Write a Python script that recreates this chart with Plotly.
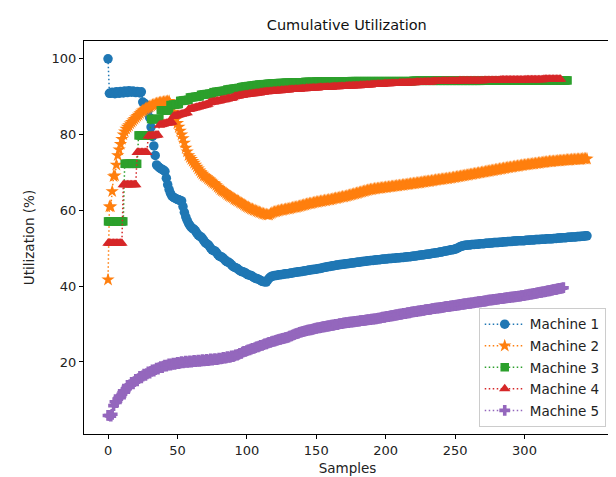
import plotly.graph_objects as go

machine1 = [
    100.0, 90.9, 90.9, 91.2, 91.0, 90.8, 91.3, 91.1, 90.9, 91.4,
    91.2, 91.0, 91.5, 91.3, 91.1, 91.6, 91.4, 91.2, 91.5, 91.3,
    91.1, 91.4, 91.2, 91.0, 91.3, 88.6, 88.3, 88.0, 87.6, 86.5,
    84.5, 82.0, 79.5, 77.0, 74.5, 72.0, 71.6, 71.3, 71.0, 70.8,
    70.6, 70.3, 68.5, 66.8, 65.5, 64.5, 63.8, 63.5, 63.3, 63.1,
    62.9, 62.8, 62.6, 62.5, 61.0, 59.5, 58.3, 57.4, 56.6, 56.0,
    55.5, 55.2, 55.0, 54.6, 54.0, 53.5, 53.2, 53.0, 52.6, 52.0,
    51.5, 51.2, 51.0, 50.6, 50.0, 49.6, 49.4, 49.3, 48.9, 48.4,
    48.0, 47.8, 47.7, 47.4, 47.0, 46.6, 46.4, 46.3, 46.0, 45.6,
    45.2, 45.0, 44.9, 44.7, 44.4, 44.1, 43.9, 43.8, 43.7, 43.5,
    43.2, 43.0, 42.9, 42.8, 42.6, 42.3, 42.1, 42.0, 41.9, 41.7,
    41.5, 41.3, 41.2, 41.2, 41.1, 41.6, 42.1, 42.4, 42.6, 42.7,
    42.8, 42.8, 42.9, 43.0, 43.0, 43.1, 43.1, 43.2, 43.3, 43.3,
    43.3, 43.4, 43.5, 43.5, 43.6, 43.7, 43.7, 43.8, 43.8, 43.9,
    43.9, 44.0, 44.1, 44.1, 44.2, 44.3, 44.3, 44.4, 44.4, 44.5,
    44.5, 44.6, 44.7, 44.7, 44.8, 44.9, 45.0, 45.0, 45.1, 45.2,
    45.2, 45.3, 45.4, 45.4, 45.5, 45.6, 45.6, 45.7, 45.7, 45.8,
    45.8, 45.9, 45.9, 46.0, 46.0, 46.1, 46.1, 46.2, 46.2, 46.3,
    46.3, 46.4, 46.4, 46.5, 46.5, 46.6, 46.6, 46.7, 46.7, 46.8,
    46.8, 46.8, 46.9, 46.9, 47.0, 47.0, 47.0, 47.1, 47.1, 47.2,
    47.2, 47.2, 47.3, 47.3, 47.3, 47.4, 47.4, 47.4, 47.5, 47.5,
    47.5, 47.6, 47.6, 47.6, 47.7, 47.7, 47.8, 47.8, 47.8, 47.9,
    47.9, 48.0, 48.0, 48.1, 48.1, 48.2, 48.2, 48.3, 48.3, 48.4,
    48.4, 48.5, 48.5, 48.6, 48.7, 48.7, 48.8, 48.8, 48.9, 49.0,
    49.0, 49.1, 49.2, 49.3, 49.3, 49.4, 49.5, 49.6, 49.6, 49.7,
    49.8, 49.9, 50.1, 50.3, 50.5, 50.6, 50.7, 50.8, 50.8, 50.9,
    50.9, 50.9, 51.0, 51.0, 51.0, 51.1, 51.1, 51.1, 51.2, 51.2,
    51.2, 51.2, 51.3, 51.3, 51.3, 51.4, 51.4, 51.4, 51.5, 51.5,
    51.5, 51.5, 51.6, 51.6, 51.6, 51.7, 51.7, 51.7, 51.8, 51.8,
    51.8, 51.8, 51.9, 51.9, 51.9, 52.0, 52.0, 52.0, 52.0, 52.0,
    52.0, 52.1, 52.1, 52.1, 52.2, 52.2, 52.2, 52.2, 52.3, 52.3,
    52.3, 52.3, 52.4, 52.4, 52.4, 52.4, 52.5, 52.5, 52.5, 52.5,
    52.5, 52.6, 52.6, 52.6, 52.7, 52.7, 52.7, 52.8, 52.8, 52.8,
    52.8, 52.9, 52.9, 52.9, 53.0, 53.0, 53.0, 53.0, 53.1, 53.1,
    53.1, 53.2, 53.2, 53.2, 53.3, 53.3,
]

machine2 = [
    41.7, 61.0, 61.0, 65.0, 69.0, 69.2, 72.0, 74.5, 76.0, 77.5,
    78.8, 80.0, 80.8, 81.5, 82.0, 82.4, 82.9, 83.3, 83.7, 84.1,
    84.5, 84.9, 85.2, 85.6, 86.0, 86.3, 86.5, 86.8, 87.0, 87.2,
    87.4, 87.6, 87.8, 87.9, 88.1, 88.2, 88.3, 88.4, 88.5, 88.5,
    88.6, 88.7, 88.7, 88.8, 88.8, 88.0, 87.0, 86.0, 85.0, 84.0,
    83.0, 82.0, 81.0, 80.0, 79.0, 77.8, 76.5, 75.5, 74.5, 74.0,
    73.5, 73.0, 72.5, 72.0, 71.5, 71.0, 70.5, 70.0, 69.6, 69.2,
    69.0, 68.7, 68.4, 68.1, 67.8, 67.5, 67.2, 67.0, 66.6, 66.2,
    65.9, 65.5, 65.2, 65.0, 64.8, 64.5, 64.2, 63.9, 63.7, 63.5,
    63.3, 63.0, 62.8, 62.6, 62.4, 62.1, 61.9, 61.7, 61.5, 61.2,
    61.0, 60.8, 60.6, 60.4, 60.3, 60.1, 60.0, 59.8, 59.7, 59.5,
    59.4, 59.2, 59.1, 59.0, 58.9, 58.8, 58.8, 59.1, 59.3, 59.5,
    59.6, 59.7, 59.8, 59.9, 60.0, 60.1, 60.1, 60.2, 60.3, 60.4,
    60.4, 60.5, 60.6, 60.7, 60.8, 60.8, 60.9, 61.0, 61.1, 61.2,
    61.3, 61.4, 61.5, 61.6, 61.7, 61.8, 61.8, 61.9, 62.0, 62.1,
    62.2, 62.2, 62.3, 62.4, 62.4, 62.5, 62.6, 62.6, 62.7, 62.8,
    62.8, 62.9, 63.0, 63.1, 63.2, 63.2, 63.3, 63.4, 63.5, 63.6,
    63.6, 63.7, 63.8, 63.9, 64.0, 64.1, 64.2, 64.3, 64.4, 64.5,
    64.6, 64.7, 64.8, 64.9, 65.0, 65.1, 65.2, 65.3, 65.4, 65.5,
    65.5, 65.6, 65.7, 65.7, 65.8, 65.8, 65.9, 65.9, 66.0, 66.0,
    66.1, 66.1, 66.2, 66.2, 66.3, 66.3, 66.4, 66.4, 66.5, 66.5,
    66.6, 66.6, 66.7, 66.7, 66.8, 66.8, 66.9, 66.9, 67.0, 67.0,
    67.1, 67.1, 67.2, 67.2, 67.3, 67.3, 67.4, 67.5, 67.5, 67.6,
    67.6, 67.7, 67.7, 67.8, 67.8, 67.9, 68.0, 68.0, 68.1, 68.1,
    68.2, 68.2, 68.3, 68.3, 68.4, 68.4, 68.5, 68.5, 68.6, 68.7,
    68.7, 68.8, 68.9, 68.9, 69.0, 69.1, 69.1, 69.2, 69.3, 69.3,
    69.4, 69.5, 69.5, 69.6, 69.7, 69.7, 69.8, 69.9, 69.9, 70.0,
    70.1, 70.1, 70.2, 70.3, 70.3, 70.4, 70.5, 70.5, 70.6, 70.7,
    70.7, 70.8, 70.9, 70.9, 71.0, 71.1, 71.1, 71.2, 71.3, 71.3,
    71.4, 71.4, 71.5, 71.6, 71.6, 71.7, 71.7, 71.8, 71.9, 71.9,
    72.0, 72.0, 72.1, 72.1, 72.2, 72.2, 72.3, 72.3, 72.4, 72.4,
    72.5, 72.5, 72.6, 72.6, 72.7, 72.7, 72.8, 72.8, 72.9, 72.9,
    72.9, 73.0, 73.0, 73.0, 73.1, 73.1, 73.1, 73.2, 73.2, 73.2,
    73.3, 73.3, 73.3, 73.3, 73.4, 73.4, 73.4, 73.4, 73.5, 73.5,
    73.5, 73.5, 73.6, 73.6, 73.6, 73.6,
]

machine3 = [
    57.1, 57.1, 57.1, 57.1, 57.1, 57.1, 57.1, 57.1, 57.1, 57.1,
    57.1, 57.1, 72.3, 72.3, 72.3, 72.3, 72.3, 72.3, 72.3, 72.3,
    72.3, 72.3, 79.8, 79.8, 79.8, 79.8, 79.8, 79.8, 79.8, 79.8,
    79.8, 84.1, 84.1, 84.1, 84.1, 84.1, 84.1, 84.1, 86.4, 86.4,
    86.4, 86.4, 86.4, 86.4, 86.4, 87.8, 87.8, 87.9, 87.9, 88.0,
    88.0, 88.1, 88.9, 88.9, 89.0, 89.0, 89.1, 89.1, 89.2, 89.8,
    89.8, 89.9, 89.9, 90.0, 90.0, 90.1, 90.1, 90.5, 90.5, 90.6,
    90.6, 90.7, 90.7, 90.8, 90.8, 90.9, 91.2, 91.2, 91.3, 91.3,
    91.4, 91.4, 91.5, 91.5, 91.6, 91.6, 91.9, 91.9, 92.0, 92.0,
    92.1, 92.1, 92.2, 92.2, 92.3, 92.3, 92.5, 92.6, 92.6, 92.7,
    92.7, 92.8, 92.8, 92.9, 92.9, 93.0, 93.0, 93.1, 93.1, 93.2,
    93.2, 93.2, 93.3, 93.3, 93.3, 93.4, 93.4, 93.4, 93.5, 93.5,
    93.5, 93.5, 93.5, 93.6, 93.6, 93.6, 93.6, 93.6, 93.7, 93.7,
    93.7, 93.7, 93.7, 93.7, 93.8, 93.8, 93.8, 93.8, 93.8, 93.8,
    93.8, 93.8, 93.9, 93.9, 93.9, 93.9, 93.9, 93.9, 93.9, 93.9,
    94.0, 94.0, 94.0, 94.0, 94.0, 94.0, 94.0, 94.0, 94.0, 94.0,
    94.0, 94.0, 94.0, 94.0, 94.0, 94.0, 94.0, 94.0, 94.0, 94.0,
    94.0, 94.0, 94.0, 94.0, 94.0, 94.1, 94.1, 94.1, 94.1, 94.1,
    94.1, 94.1, 94.1, 94.1, 94.1, 94.1, 94.1, 94.1, 94.1, 94.1,
    94.1, 94.1, 94.1, 94.1, 94.1, 94.1, 94.1, 94.1, 94.1, 94.1,
    94.1, 94.1, 94.1, 94.1, 94.1, 94.1, 94.1, 94.1, 94.1, 94.1,
    94.1, 94.1, 94.1, 94.1, 94.1, 94.1, 94.1, 94.1, 94.1, 94.1,
    94.2, 94.2, 94.2, 94.2, 94.2, 94.2, 94.2, 94.2, 94.2, 94.2,
    94.2, 94.2, 94.2, 94.2, 94.2, 94.2, 94.2, 94.2, 94.2, 94.2,
    94.2, 94.2, 94.2, 94.2, 94.2, 94.2, 94.2, 94.2, 94.2, 94.2,
    94.2, 94.2, 94.2, 94.2, 94.2, 94.2, 94.2, 94.2, 94.2, 94.2,
    94.2, 94.2, 94.2, 94.2, 94.2, 94.2, 94.2, 94.2, 94.2, 94.2,
    94.3, 94.3, 94.3, 94.3, 94.3, 94.3, 94.3, 94.3, 94.3, 94.3,
    94.3, 94.3, 94.3, 94.3, 94.3, 94.3, 94.3, 94.3, 94.3, 94.3,
    94.3, 94.3, 94.3, 94.3, 94.3, 94.3, 94.3, 94.3, 94.3, 94.3,
    94.3, 94.3, 94.3, 94.3, 94.3, 94.3, 94.3, 94.3, 94.3, 94.3,
    94.3, 94.3, 94.3, 94.3, 94.3, 94.3, 94.3, 94.3, 94.3, 94.3,
    94.3, 94.3, 94.3, 94.3, 94.3, 94.3, 94.3, 94.3, 94.3, 94.3,
    94.3, 94.3,
]

machine4 = [
    51.3, 51.3, 51.3, 51.3, 51.3, 51.3, 51.3, 51.3, 51.3, 51.3,
    51.3, 66.8, 66.8, 66.8, 66.8, 66.8, 66.8, 66.8, 66.8, 66.8,
    66.8, 75.3, 75.3, 75.3, 75.3, 75.3, 75.3, 75.3, 75.3, 79.6,
    79.6, 79.7, 79.7, 79.7, 79.8, 79.8, 79.9, 82.5, 82.6, 82.7,
    82.8, 82.9, 83.0, 83.0, 83.1, 83.2, 83.3, 84.8, 84.9, 85.0,
    85.1, 85.2, 85.3, 85.4, 85.5, 85.6, 85.7, 85.8, 86.6, 86.7,
    86.8, 86.9, 87.0, 87.1, 87.2, 87.3, 87.4, 87.5, 87.6, 87.7,
    87.8, 87.9, 88.0, 88.4, 88.5, 88.6, 88.6, 88.7, 88.8, 88.9,
    88.9, 89.0, 89.1, 89.2, 89.2, 89.3, 89.4, 89.5, 89.5, 89.6,
    89.7, 90.0, 90.1, 90.1, 90.2, 90.3, 90.3, 90.4, 90.5, 90.5,
    90.6, 90.6, 90.7, 90.7, 90.8, 90.8, 90.9, 90.9, 91.0, 91.0,
    91.1, 91.2, 91.2, 91.3, 91.3, 91.3, 91.4, 91.4, 91.4, 91.5,
    91.5, 91.5, 91.6, 91.6, 91.6, 91.7, 91.7, 91.7, 91.8, 91.8,
    91.8, 91.9, 91.9, 91.9, 91.9, 92.0, 92.0, 92.0, 92.0, 92.1,
    92.1, 92.1, 92.1, 92.2, 92.2, 92.2, 92.2, 92.3, 92.3, 92.3,
    92.3, 92.3, 92.4, 92.4, 92.4, 92.4, 92.4, 92.5, 92.5, 92.5,
    92.5, 92.5, 92.6, 92.6, 92.6, 92.6, 92.6, 92.7, 92.7, 92.7,
    92.7, 92.7, 92.8, 92.8, 92.8, 92.8, 92.8, 92.9, 92.9, 92.9,
    92.9, 92.9, 93.0, 93.0, 93.0, 93.0, 93.1, 93.1, 93.1, 93.1,
    93.2, 93.2, 93.2, 93.2, 93.3, 93.3, 93.3, 93.3, 93.3, 93.4,
    93.4, 93.4, 93.4, 93.4, 93.5, 93.5, 93.5, 93.5, 93.5, 93.5,
    93.6, 93.6, 93.6, 93.6, 93.6, 93.6, 93.7, 93.7, 93.7, 93.7,
    93.7, 93.7, 93.8, 93.8, 93.8, 93.8, 93.8, 93.8, 93.9, 93.9,
    93.9, 93.9, 93.9, 93.9, 94.0, 94.0, 94.0, 94.0, 94.0, 94.0,
    94.0, 94.1, 94.1, 94.1, 94.1, 94.1, 94.1, 94.1, 94.1, 94.1,
    94.1, 94.1, 94.1, 94.2, 94.2, 94.2, 94.2, 94.2, 94.2, 94.2,
    94.2, 94.2, 94.2, 94.2, 94.2, 94.2, 94.2, 94.2, 94.2, 94.2,
    94.2, 94.3, 94.3, 94.3, 94.3, 94.3, 94.3, 94.3, 94.3, 94.3,
    94.3, 94.3, 94.3, 94.4, 94.4, 94.4, 94.4, 94.4, 94.4, 94.4,
    94.4, 94.4, 94.4, 94.4, 94.4, 94.4, 94.4, 94.4, 94.4, 94.4,
    94.4, 94.5, 94.5, 94.5, 94.5, 94.5, 94.5, 94.5, 94.5, 94.5,
    94.5, 94.5, 94.5, 94.5, 94.6, 94.6, 94.6, 94.6, 94.6, 94.6,
    94.6, 94.6, 94.6, 94.6, 94.6, 94.6, 94.6,
]

machine5 = [
    5.9, 5.9, 5.7, 6.2, 8.5, 9.5, 9.3, 10.2, 11.0, 10.6,
    11.5, 12.4, 12.0, 12.9, 13.8, 13.4, 14.0, 14.6, 14.2, 14.8,
    15.4, 15.0, 15.6, 16.2, 15.8, 16.3, 16.8, 16.5, 16.9, 17.4,
    17.1, 17.5, 17.9, 17.6, 18.0, 18.4, 18.1, 18.5, 18.8, 18.5,
    18.9, 19.2, 18.9, 19.2, 19.5, 19.2, 19.4, 19.7, 19.4, 19.6,
    19.9, 19.6, 19.8, 20.1, 19.8, 19.9, 20.2, 19.9, 20.0, 20.3,
    20.0, 20.1, 20.4, 20.1, 20.2, 20.5, 20.2, 20.3, 20.6, 20.3,
    20.4, 20.7, 20.4, 20.5, 20.8, 20.5, 20.6, 20.9, 20.6, 20.7,
    21.0, 20.8, 20.9, 21.2, 21.0, 21.1, 21.4, 21.2, 21.3, 21.6,
    21.4, 21.6, 21.9, 21.8, 22.0, 22.3, 22.3, 22.6, 22.8, 22.8,
    23.0, 23.2, 23.2, 23.4, 23.6, 23.6, 23.8, 24.0, 24.0, 24.2,
    24.4, 24.4, 24.6, 24.8, 24.8, 25.0, 25.2, 25.2, 25.4, 25.5,
    25.5, 25.7, 25.8, 25.9, 26.0, 26.1, 26.2, 26.3, 26.4, 26.5,
    26.6, 26.8, 26.9, 27.1, 27.2, 27.4, 27.5, 27.6, 27.8, 27.9,
    28.0, 28.1, 28.2, 28.3, 28.4, 28.5, 28.5, 28.6, 28.7, 28.8,
    28.9, 29.0, 29.0, 29.1, 29.2, 29.3, 29.3, 29.4, 29.5, 29.5,
    29.6, 29.7, 29.7, 29.8, 29.9, 29.9, 30.0, 30.1, 30.1, 30.2,
    30.3, 30.3, 30.4, 30.4, 30.5, 30.5, 30.6, 30.6, 30.7, 30.7,
    30.8, 30.8, 30.9, 30.9, 31.0, 31.0, 31.1, 31.1, 31.2, 31.2,
    31.3, 31.3, 31.4, 31.4, 31.5, 31.6, 31.6, 31.7, 31.8, 31.8,
    31.9, 32.0, 32.0, 32.1, 32.2, 32.2, 32.3, 32.4, 32.4, 32.5,
    32.6, 32.6, 32.7, 32.8, 32.8, 32.9, 33.0, 33.0, 33.1, 33.2,
    33.2, 33.3, 33.3, 33.4, 33.5, 33.5, 33.6, 33.6, 33.7, 33.8,
    33.8, 33.9, 33.9, 34.0, 34.1, 34.1, 34.2, 34.2, 34.3, 34.3,
    34.4, 34.4, 34.5, 34.6, 34.6, 34.7, 34.7, 34.8, 34.8, 34.9,
    34.9, 35.0, 35.0, 35.1, 35.2, 35.2, 35.3, 35.3, 35.4, 35.4,
    35.5, 35.5, 35.6, 35.6, 35.7, 35.8, 35.8, 35.9, 35.9, 36.0,
    36.0, 36.1, 36.1, 36.2, 36.3, 36.3, 36.4, 36.4, 36.5, 36.5,
    36.6, 36.6, 36.7, 36.7, 36.8, 36.8, 36.9, 36.9, 37.0, 37.0,
    37.1, 37.1, 37.2, 37.2, 37.3, 37.3, 37.4, 37.4, 37.5, 37.5,
    37.6, 37.7, 37.7, 37.8, 37.9, 37.9, 38.0, 38.1, 38.1, 38.2,
    38.3, 38.3, 38.4, 38.5, 38.5, 38.6, 38.7, 38.8, 38.8, 38.9,
    39.0, 39.1, 39.1, 39.2, 39.3, 39.4, 39.4, 39.5, 39.6,
]

series_names = ["Machine 1", "Machine 2", "Machine 3", "Machine 4", "Machine 5"]
series_values = [machine1, machine2, machine3, machine4, machine5]
colors = ["#1f77b4", "#ff7f0e", "#2ca02c", "#d62728", "#9467bd"]
symbols = ["circle", "star", "square", "triangle-up", "cross"]
sizes = [9.5, 10, 8.5, 10, 9]

x_ticks = [0, 50, 100, 150, 200, 250, 300]
y_ticks = [20, 40, 60, 80, 100]

FONT = "DejaVu Sans"

fig = go.Figure()
for i, (name, vals) in enumerate(zip(series_names, series_values)):
    fig.add_trace(go.Scatter(
        x=list(range(len(vals))),
        y=vals,
        mode="lines+markers",
        name=name,
        legendgroup=name,
        line=dict(color=colors[i], width=1.5, dash="1.5px,2.5px"),
        marker=dict(color=colors[i], symbol=symbols[i], size=sizes[i],
                    line=dict(width=0)),
    ))

axis_common = dict(
    showline=True, linecolor="black", linewidth=1, mirror=True,
    ticks="outside", ticklen=4, tickwidth=1, tickcolor="black",
    showgrid=False, zeroline=False,
    tickfont=dict(family=FONT, size=13, color="#222"),
)

fig.update_layout(
    width=616, height=477,
    margin=dict(l=76, r=13, t=33, b=49),
    paper_bgcolor="white", plot_bgcolor="white",
    font=dict(family=FONT, color="#222"),
    title=dict(text="Cumulative Utilization", x=0.55, xanchor="center",
               y=1 - 17 / 477, yanchor="middle",
               font=dict(family=FONT, size=14.5, color="#111")),
    xaxis=dict(range=[-17.3, 362.3], tickvals=x_ticks,
               title=dict(text="Samples", font=dict(family=FONT, size=13.5, color="#222"), standoff=6),
               **axis_common),
    yaxis=dict(range=[1.0, 104.7], tickvals=y_ticks,
               title=dict(text="Utilization (%)", font=dict(family=FONT, size=13.5, color="#222"), standoff=13),
               **axis_common),
    legend=dict(x=0.99, y=0.018, xanchor="right", yanchor="bottom",
                bgcolor="rgba(255,255,255,0.85)", bordercolor="#cccccc", borderwidth=1,
                font=dict(family=FONT, size=13.5, color="#222"),
                itemwidth=40, tracegroupgap=1),
    showlegend=True,
)

fig.write_html("out.html")
